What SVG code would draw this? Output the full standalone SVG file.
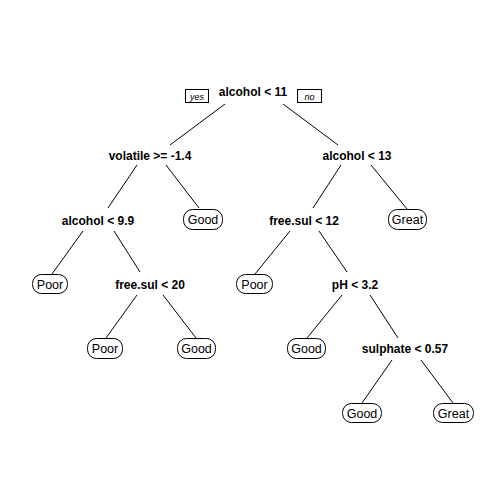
<svg xmlns="http://www.w3.org/2000/svg" width="504" height="504" viewBox="0 0 504 504">
<style>
.split{font-family:"Liberation Sans",Arial,sans-serif;font-size:12px;font-weight:bold;text-anchor:middle;fill:#000}
.leaf text{font-family:"Liberation Sans",Arial,sans-serif;font-size:12.5px;text-anchor:middle;fill:#000}
.leaf rect{fill:#fff;stroke:#000;stroke-width:1}
.tag rect{fill:#fff;stroke:#000;stroke-width:1}
.tag text{font-family:"Liberation Sans",Arial,sans-serif;font-size:9px;font-style:italic;text-anchor:middle;fill:#000}
#connectors line{stroke:#000;stroke-width:1}
</style>
<rect width="504" height="504" fill="#fff"/>
<g id="connectors">
<line x1="225" y1="104" x2="170" y2="145"/>
<line x1="283" y1="104" x2="338" y2="145"/>
<line x1="137" y1="165" x2="108" y2="208"/>
<line x1="166" y1="165" x2="199" y2="208"/>
<line x1="341" y1="165" x2="313" y2="208"/>
<line x1="371" y1="165" x2="407" y2="209"/>
<line x1="83" y1="231" x2="52" y2="274"/>
<line x1="114" y1="231" x2="140" y2="272"/>
<line x1="290" y1="231" x2="255" y2="274"/>
<line x1="319" y1="231" x2="347" y2="272"/>
<line x1="137" y1="295" x2="106" y2="338"/>
<line x1="163" y1="295" x2="196" y2="338"/>
<line x1="342" y1="295" x2="307" y2="338"/>
<line x1="370" y1="295" x2="398" y2="338"/>
<line x1="392" y1="360" x2="362" y2="403"/>
<line x1="421" y1="360" x2="453" y2="403"/>
</g>
<g id="tag-yes" class="tag"><rect x="185.5" y="89.5" width="23" height="13"/><text x="197" y="99.5">yes</text></g>
<g id="tag-no" class="tag"><rect x="297.5" y="89.5" width="24" height="13"/><text x="309.5" y="99.5">no</text></g>
<g id="n1"><text class="split" x="253" y="96">alcohol &lt; 11</text></g>
<g id="n2"><text class="split" x="150" y="160">volatile &gt;= -1.4</text></g>
<g id="n3"><text class="split" x="357" y="160">alcohol &lt; 13</text></g>
<g id="n4"><text class="split" x="98" y="225">alcohol &lt; 9.9</text></g>
<g id="n5" class="leaf"><rect x="183.5" y="209.5" width="39" height="20" rx="9"/><text x="203" y="224">Good</text></g>
<g id="n6"><text class="split" x="304" y="225">free.sul &lt; 12</text></g>
<g id="n7" class="leaf"><rect x="388.5" y="209.5" width="38" height="20" rx="9"/><text x="407.5" y="224">Great</text></g>
<g id="n8" class="leaf"><rect x="32.5" y="274.5" width="35" height="19" rx="9"/><text x="50" y="288.5">Poor</text></g>
<g id="n9"><text class="split" x="150" y="289">free.sul &lt; 20</text></g>
<g id="n10" class="leaf"><rect x="236.5" y="274.5" width="36" height="19" rx="9"/><text x="254.5" y="288.5">Poor</text></g>
<g id="n11"><text class="split" x="355" y="289">pH &lt; 3.2</text></g>
<g id="n12" class="leaf"><rect x="87.5" y="338.5" width="35" height="20" rx="9"/><text x="105" y="353">Poor</text></g>
<g id="n13" class="leaf"><rect x="177.5" y="338.5" width="38" height="20" rx="9"/><text x="196.5" y="353">Good</text></g>
<g id="n14" class="leaf"><rect x="287.5" y="338.5" width="38" height="20" rx="9"/><text x="306.5" y="353">Good</text></g>
<g id="n15"><text class="split" x="405" y="353">sulphate &lt; 0.57</text></g>
<g id="n16" class="leaf"><rect x="342.5" y="403.5" width="39" height="19" rx="9"/><text x="362" y="417.5">Good</text></g>
<g id="n17" class="leaf"><rect x="433.5" y="403.5" width="40" height="19" rx="9"/><text x="453.5" y="417.5">Great</text></g>
</svg>
